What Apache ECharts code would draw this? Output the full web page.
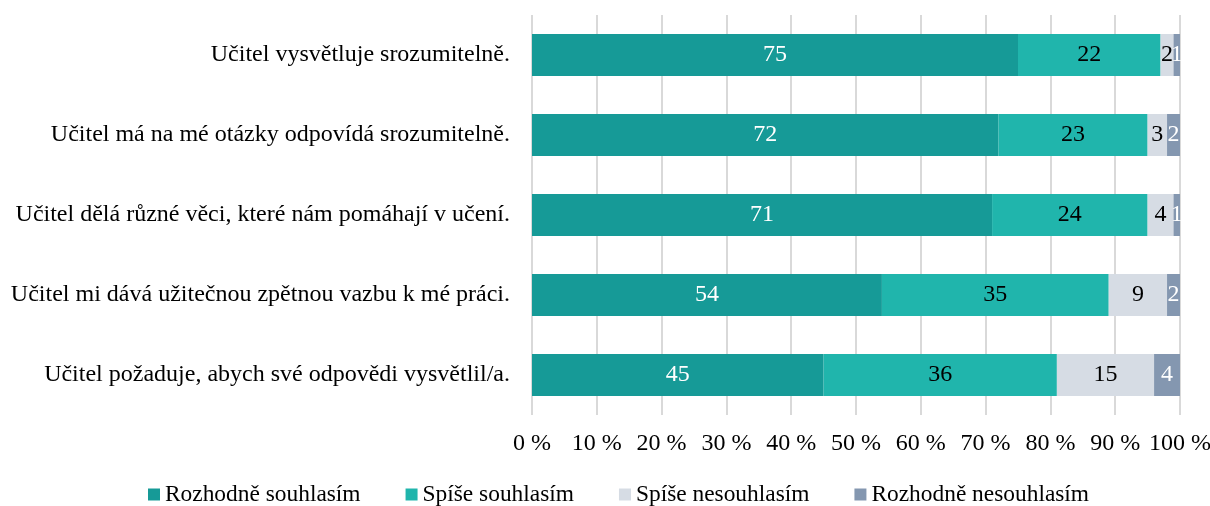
<!DOCTYPE html>
<html>
<head>
<meta charset="utf-8">
<script src="https://cdn.jsdelivr.net/npm/echarts@6/dist/echarts.min.js"></script>
<style>
  html, body { margin: 0; padding: 0; background: #fff; }
  #chart { width: 1210px; height: 506px; }
</style>
</head>
<body>
<div id="chart"></div>
<script>
const categories = [
  'Učitel vysvětluje srozumitelně.',
  'Učitel má na mé otázky odpovídá srozumitelně.',
  'Učitel dělá různé věci, které nám pomáhají v učení.',
  'Učitel mi dává užitečnou zpětnou vazbu k mé práci.',
  'Učitel požaduje, abych své odpovědi vysvětlil/a.'
];
const seriesNames = ['Rozhodně souhlasím', 'Spíše souhlasím', 'Spíše nesouhlasím', 'Rozhodně nesouhlasím'];
const rozhodneSouhlasim = [75, 72, 71, 54, 45];
const spiseSouhlasim = [22, 23, 24, 35, 36];
const spiseNesouhlasim = [2, 3, 4, 9, 15];
const rozhodneNesouhlasim = [1, 2, 1, 2, 4];

const colors = ['#169a97', '#20b5ac', '#d6dce4', '#8497b0'];
const labelColors = ['#ffffff', '#000000', '#000000', '#ffffff'];
const values = [rozhodneSouhlasim, spiseSouhlasim, spiseNesouhlasim, rozhodneNesouhlasim];
const font = '"Liberation Serif", "Times New Roman", serif';

const chart = echarts.init(document.getElementById('chart'));
chart.setOption({
  textStyle: { fontFamily: font },
  grid: { left: 532, right: 30, top: 15, bottom: 91, outerBoundsMode: 'none', containLabel: false },
  legend: {
    bottom: -5,
    left: 143,
    itemWidth: 12,
    itemHeight: 12,
    itemGap: 45,
    icon: 'rect',
    textStyle: { fontFamily: font, fontSize: 23.4, color: '#000' },
    data: seriesNames
  },
  xAxis: {
    type: 'value',
    min: 0,
    max: 100,
    interval: 10,
    axisLine: { show: false },
    axisTick: { show: false },
    splitLine: { lineStyle: { color: '#d9d9d9', width: 2 } },
    axisLabel: {
      formatter: '{value} %',
      fontFamily: font,
      fontSize: 24,
      color: '#000',
      margin: 17
    }
  },
  yAxis: {
    type: 'category',
    inverse: true,
    data: categories,
    axisLine: { show: false },
    axisTick: { show: false },
    axisLabel: { fontFamily: font, fontSize: 24, color: '#000', margin: 22 }
  },
  series: seriesNames.map((name, i) => ({
    name: name,
    type: 'bar',
    stack: 'total',
    barWidth: 42,
    data: values[i],
    itemStyle: { color: colors[i] },
    label: {
      show: true,
      position: 'inside',
      fontFamily: font,
      fontSize: 24,
      color: labelColors[i]
    }
  }))
});
</script>
</body>
</html>
